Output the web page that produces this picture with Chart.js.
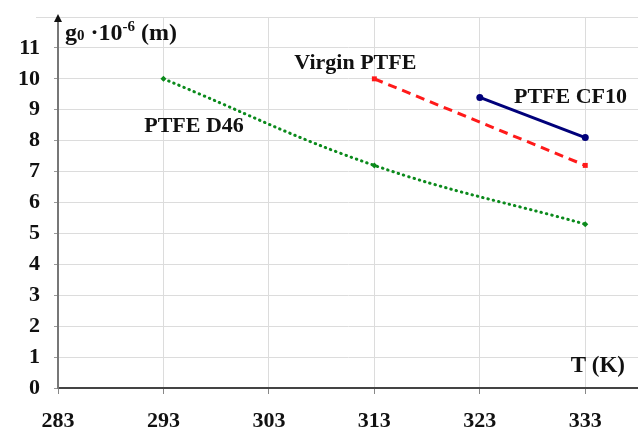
<!DOCTYPE html>
<html>
<head>
<meta charset="utf-8">
<script src="https://cdn.jsdelivr.net/npm/chart.js"></script>
<style>
  html, body { margin: 0; padding: 0; background: #fff; }
  canvas { display: block; }
</style>
</head>
<body>
<canvas id="chart" width="638" height="435"></canvas>
<script>
// Data
const temperatures = [283, 293, 303, 313, 323, 333];   // x tick labels (K)
const yTicks = [0, 1, 2, 3, 4, 5, 6, 7, 8, 9, 10, 11, 12];

const d46T = [293, 313, 333];
const d46G = [10.0, 7.2, 5.3];

const virginT = [313, 333];
const virginG = [10.0, 7.2];

const cf10T = [323, 333];
const cf10G = [9.4, 8.1];

const seriesNames = ['PTFE D46', 'Virgin PTFE', 'PTFE CF10'];

const FONT = '"Liberation Serif", "DejaVu Serif", serif';

function toPoints(xs, ys) {
    return xs.map((x, i) => ({ x: x, y: ys[i] }));
}

// Text labels placed in data units, plus axis arrow
const labelPlacement = [
    { text: seriesNames[0], x: 295.9, y: 8.45 },
    { text: seriesNames[1], x: 311.2, y: 10.5 },
    { text: seriesNames[2], x: 331.6, y: 9.4 }
];

const decorations = {
    id: 'decorations',
    afterDraw(chart) {
        const ctx = chart.ctx;
        const xs = chart.scales.x;
        const ys = chart.scales.y;
        ctx.save();

        // top grid line runs a bit past the axis
        ctx.strokeStyle = '#dcdcdc';
        ctx.lineWidth = 1;
        ctx.beginPath();
        ctx.moveTo(36, ys.top + 0.5);
        ctx.lineTo(xs.right, ys.top + 0.5);
        ctx.stroke();

        // arrow head on the y axis
        const ax = xs.left;
        ctx.fillStyle = '#111';
        ctx.beginPath();
        ctx.moveTo(ax, ys.top - 3);
        ctx.lineTo(ax - 4, ys.top + 5);
        ctx.lineTo(ax + 4, ys.top + 5);
        ctx.closePath();
        ctx.fill();

        ctx.fillStyle = '#111';
        ctx.textBaseline = 'alphabetic';
        ctx.textAlign = 'left';

        // y axis title: g0 ·10-6 (m)
        const parts = [
            { t: 'g', size: 24, dy: 0 },
            { t: '0', size: 15, dy: 0 },
            { t: ' \u00b710', size: 24, dy: 0 },
            { t: '-6', size: 15, dy: -9 },
            { t: ' (m)', size: 24, dy: 0 }
        ];
        let px = xs.left + 7;
        const base = ys.top + 23;
        parts.forEach(p => {
            ctx.font = 'bold ' + p.size + 'px ' + FONT;
            ctx.fillText(p.t, px, base + p.dy);
            px += ctx.measureText(p.t).width;
        });

        ctx.font = 'bold 23px ' + FONT;
        ctx.textAlign = 'right';
        ctx.textBaseline = 'middle';
        ctx.fillText('T (K)', xs.right - 13, ys.bottom - 22);

        // series names
        ctx.font = 'bold 22px ' + FONT;
        ctx.textAlign = 'center';
        labelPlacement.forEach(l => {
            ctx.fillText(l.text, xs.getPixelForValue(l.x), ys.getPixelForValue(l.y));
        });
        ctx.restore();
    }
};

new Chart(document.getElementById('chart'), {
    type: 'scatter',
    data: {
        datasets: [
            {
                label: seriesNames[0],
                data: toPoints(d46T, d46G),
                showLine: true,
                tension: 0.4,
                borderColor: '#0b8a1c',
                backgroundColor: '#0b8a1c',
                borderWidth: 3,
                borderDash: [0.5, 5],
                borderCapStyle: 'round',
                pointStyle: 'rectRot',
                pointRadius: 3,
                pointBorderWidth: 0
            },
            {
                label: seriesNames[1],
                data: toPoints(virginT, virginG),
                showLine: true,
                borderColor: '#ff1a1a',
                backgroundColor: '#ff1a1a',
                borderWidth: 3,
                borderDash: [9, 6],
                pointStyle: 'rect',
                pointRadius: 3.5,
                pointBorderWidth: 0
            },
            {
                label: seriesNames[2],
                data: toPoints(cf10T, cf10G),
                showLine: true,
                borderColor: '#00007a',
                backgroundColor: '#00007a',
                borderWidth: 3,
                pointStyle: 'circle',
                pointRadius: 3.5,
                pointBorderWidth: 0
            }
        ]
    },
    options: {
        responsive: false,
        animation: false,
        layout: { autoPadding: false, padding: { top: 17, right: 0, left: 0, bottom: 0 } },
        plugins: {
            legend: { display: false },
            tooltip: { enabled: false }
        },
        scales: {
            x: {
                type: 'linear',
                min: 283,
                max: 338,
                afterFit: s => {
                    s.height = 47;
                    s.paddingLeft = 0;
                    s.paddingRight = 0;
                },
                afterBuildTicks: s => { s.ticks = temperatures.map(v => ({ value: v })); },
                grid: { color: '#dcdcdc', lineWidth: 1, tickLength: 6, tickColor: '#888' },
                border: { color: '#444', width: 2 },
                ticks: {
                    color: '#111',
                    padding: 14,
                    maxRotation: 0,
                    font: { family: FONT, size: 22, weight: 'bold' }
                }
            },
            y: {
                type: 'linear',
                min: 0,
                max: 12,
                afterFit: s => {
                    s.width = 58;
                    s.paddingTop = 0;
                    s.paddingBottom = 0;
                },
                afterBuildTicks: s => { s.ticks = yTicks.map(v => ({ value: v })); },
                grid: { color: '#dcdcdc', lineWidth: 1, tickLength: 4, tickColor: '#999' },
                border: { color: '#777', width: 2 },
                ticks: {
                    color: '#111',
                    padding: 14,
                    font: { family: FONT, size: 22, weight: 'bold' },
                    callback: v => (v === 12 ? '' : v)
                }
            }
        }
    },
    plugins: [decorations]
});
</script>
</body>
</html>
